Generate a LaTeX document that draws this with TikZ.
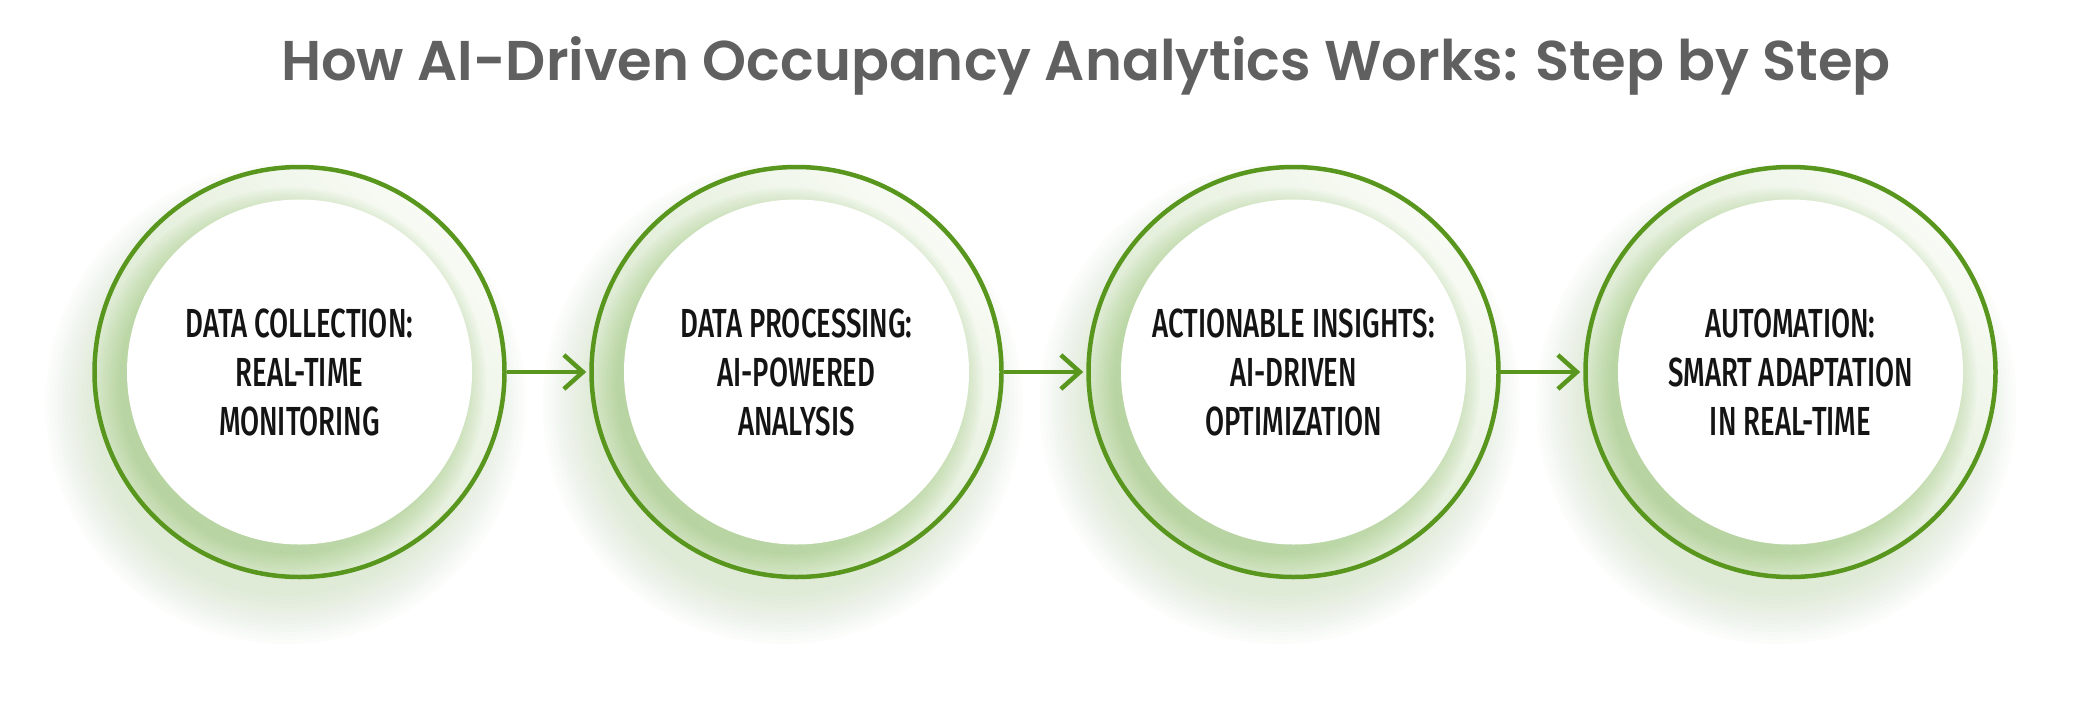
\documentclass[tikz,border=0pt]{standalone}
\usepackage{fontspec}
\usetikzlibrary{arrows.meta}
\newfontfamily\titlefont{Poppins}[UprightFont=* SemiBold]
\newfontfamily\stepfont{Fira Sans}[UprightFont=* Medium, FakeStretch=0.68]
\definecolor{ringgreen}{RGB}{88,150,30}
\definecolor{glowgreen}{RGB}{140,190,100}
\definecolor{bandlight}{RGB}{248,251,245}
\definecolor{banddark}{RGB}{212,229,198}
\definecolor{titlegray}{RGB}{96,96,96}
\tikzset{
  ring/.style={circle, draw=ringgreen, line width=4.5pt, minimum size=410pt, inner sep=0pt},
  steplabel/.style={align=center, font=\stepfont\fontsize{40.6}{49}\selectfont, text=black!92, inner sep=0pt},
  flow/.style={draw=ringgreen, line width=4.5pt, -{Straight Barb[length=19pt,width=34pt]}},
  glowlayer/.style={fill=glowgreen, opacity=0.02},
  shadowlayer/.style={fill=glowgreen, opacity=0.045},
}
\begin{document}
\begin{tikzpicture}[x=1pt,y=-1pt]
\fill[white] (0,0) rectangle (2100,702);
\useasboundingbox (0,0) rectangle (2100,702);
\node[font=\titlefont\fontsize{56}{60}\selectfont, text=titlegray, anchor=base] (title) at (1086,80.5) {How AI-Driven Occupancy Analytics Works: Step by Step};
% outer glows
\foreach \cx in {299.5,796.5,1293.5,1790.5} {
  \foreach \k in {1,...,13} \path[glowlayer] (\cx-14,404) circle (188+4*\k);
}
% ring bands
\foreach \cx in {299.5,796.5,1293.5,1790.5} {
  \shade[top color=bandlight, bottom color=banddark, shading angle=-45] (\cx,372) circle (205);
  \begin{scope}
    \clip (\cx,372) circle (205);
    \foreach \k in {0,...,9} \path[shadowlayer] (\cx-8,382) circle (172+2.5*\k);
  \end{scope}
  \fill[white] (\cx,372) circle (172.5);
}
\node[ring] (s1) at (299.5,372) {};
\node[ring] (s2) at (796.5,372) {};
\node[ring] (s3) at (1293.5,372) {};
\node[ring] (s4) at (1790.5,372) {};
\node[steplabel] (t1) at (s1) {DATA COLLECTION:\\REAL-TIME\\MONITORING};
\node[steplabel] (t2) at (s2) {DATA PROCESSING:\\AI-POWERED\\ANALYSIS};
\node[steplabel] (t3) at (s3) {ACTIONABLE INSIGHTS:\\AI-DRIVEN\\OPTIMIZATION};
\node[steplabel] (t4) at (s4) {AUTOMATION:\\SMART ADAPTATION\\IN REAL-TIME};
\draw[flow] (s1.east) -- ([xshift=-3pt]s2.west);
\draw[flow] (s2.east) -- ([xshift=-3pt]s3.west);
\draw[flow] (s3.east) -- ([xshift=-3pt]s4.west);
\end{tikzpicture}
\end{document}
